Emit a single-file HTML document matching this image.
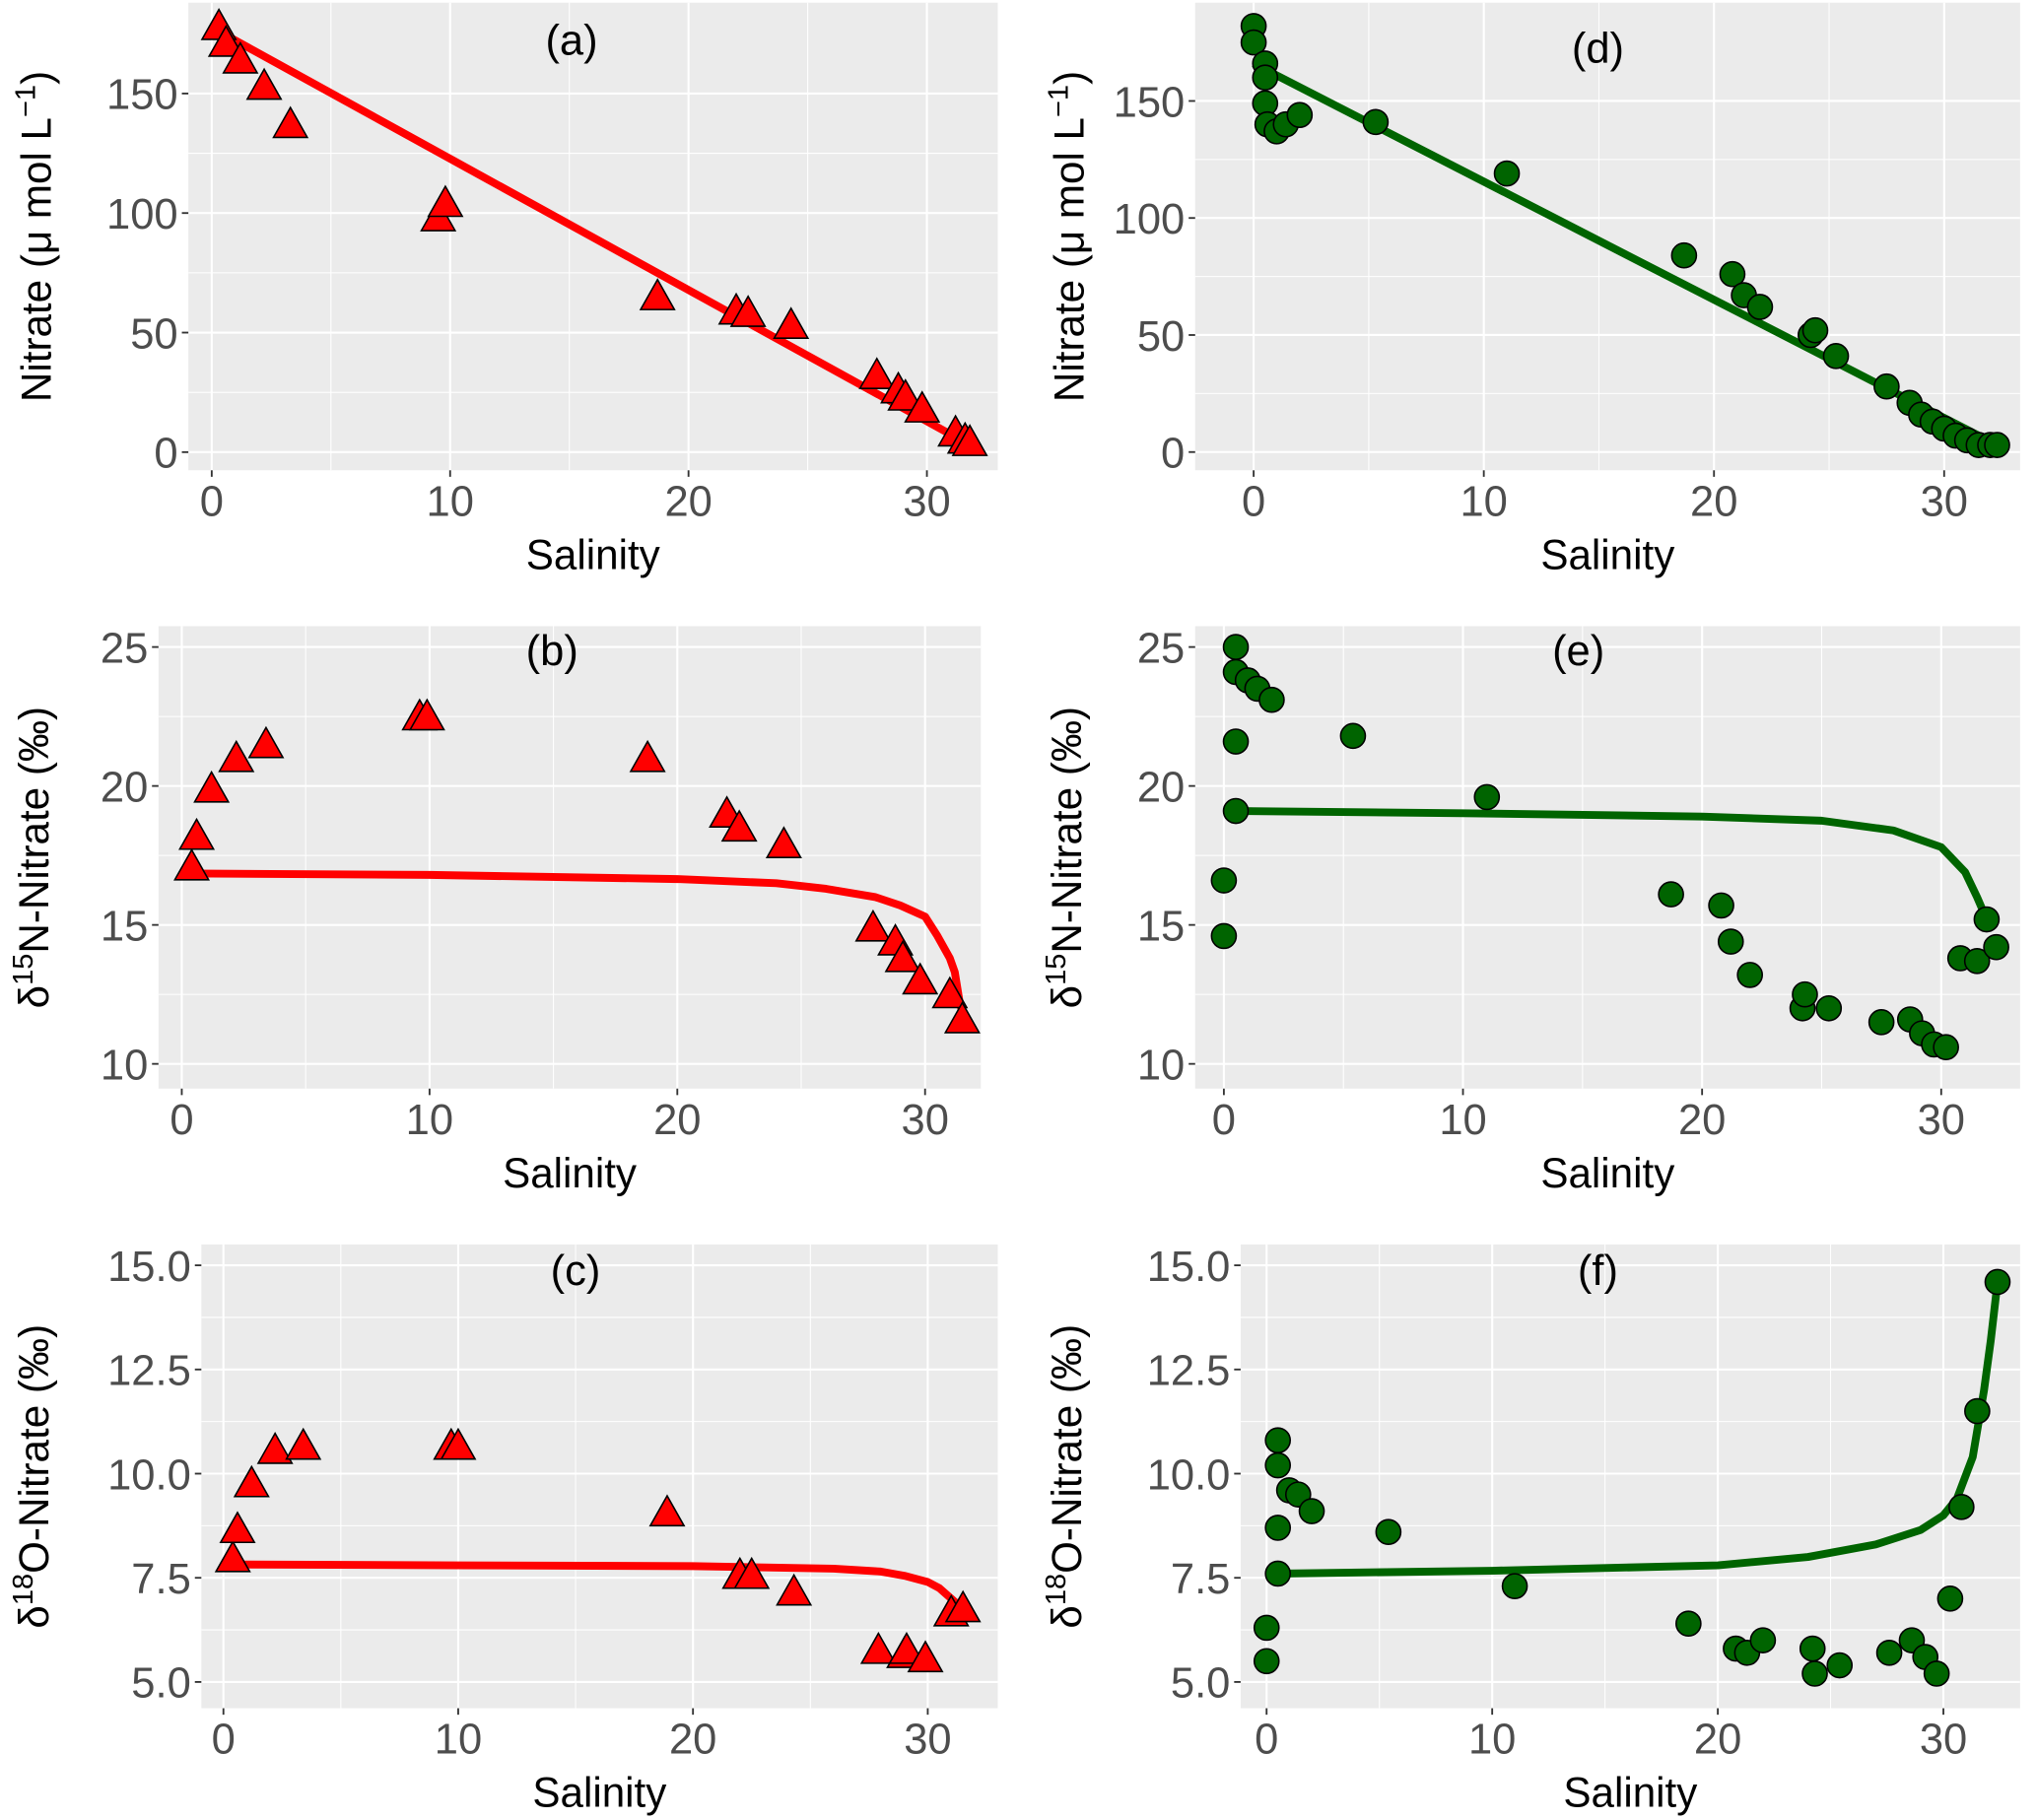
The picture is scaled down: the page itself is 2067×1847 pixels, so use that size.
<!DOCTYPE html>
<html><head><meta charset="utf-8"><style>
html,body{margin:0;padding:0;background:#fff;}
svg{display:block;font-family:"Liberation Sans",Arial,sans-serif;}
</style></head><body>
<svg id="fig" width="2067" height="1847" viewBox="0 0 1568 1401" xmlns="http://www.w3.org/2000/svg"></svg>
<script>
// ---- Data arrays ----
const salA=[0.3,0.6,1.2,2.2,3.3,9.5,9.8,18.7,22,22.5,24.3,27.9,28.8,29.1,29.8,31.2,31.6,31.8];
const nitA=[177,170,163,152,136,97,103,64,58,57,52,31,25,22,17,7,4,3];
const lineAx=[0.3,31.8];
const lineAy=[176,3];

const salB=[0.4,0.6,1.2,2.2,3.4,9.6,9.9,18.8,22,22.5,24.3,27.9,28.8,29.1,29.8,31,31.5];
const d15B=[17.0,18.1,19.8,20.9,21.4,22.4,22.4,20.9,18.9,18.4,17.8,14.8,14.3,13.7,12.9,12.4,11.5];
const lineBx=[0.4,10,20,24,26,28,29,30,30.5,31,31.2,31.4,31.6];
const lineBy=[16.85,16.8,16.65,16.5,16.3,16.0,15.7,15.3,14.6,13.8,13.3,12.2,11.5];

const salC=[0.4,0.6,1.2,2.2,3.4,9.7,10,18.9,22,22.5,24.3,27.9,29,29.1,29.9,31,31.5];
const d18C=[7.9,8.6,9.7,10.5,10.6,10.6,10.6,9.0,7.5,7.5,7.1,5.7,5.6,5.7,5.5,6.6,6.7];
const lineCx=[0.4,10,20,26,28,29,30,30.5,31,31.6];
const lineCy=[7.82,7.8,7.78,7.72,7.65,7.55,7.4,7.25,7.0,6.7];

const salD=[0,0,0.5,0.5,0.5,0.6,1,1.4,2,5.3,11,18.7,20.8,21.3,22,24.2,24.4,25.3,27.5,28.5,29,29.5,30,30.5,31,31.5,32,32.3];
const nitD=[182,175,166,160,149,140,137,140,144,141,119,84,76,67,62,50,52,41,28,21,16,13,10,7,5,3,3,3];
const lineDx=[0,32.3];
const lineDy=[166,3];

const salE=[0,0,0.5,0.5,0.5,0.5,1,1.4,2,5.4,11,18.7,20.8,21.2,22,24.2,24.3,25.3,27.5,28.7,29.2,29.7,30.2,30.8,31.5,31.9,32.3];
const d15E=[16.6,14.6,25,24.1,21.6,19.1,23.8,23.5,23.1,21.8,19.6,16.1,15.7,14.4,13.2,12,12.5,12,11.5,11.6,11.1,10.7,10.6,13.8,13.7,15.2,14.2];
const lineEx=[0.5,10,20,25,28,30,31,31.5,31.8,32.1];
const lineEy=[19.1,19.02,18.9,18.75,18.4,17.8,16.9,16.0,15.4,14.9];

const salF=[0,0,0.5,0.5,0.5,0.5,1,1.4,2,5.4,11,18.7,20.8,21.3,22,24.2,24.3,25.4,27.6,28.6,29.2,29.7,30.3,30.8,31.5,32.4];
const d18F=[6.3,5.5,10.8,10.2,8.7,7.6,9.6,9.5,9.1,8.6,7.3,6.4,5.8,5.7,6.0,5.8,5.2,5.4,5.7,6.0,5.6,5.2,7.0,9.2,11.5,14.6];
const lineFx=[0.5,10,20,24,27,29,30,30.6,31.3,31.8,32.1,32.4];
const lineFy=[7.6,7.67,7.8,8.0,8.3,8.65,9.0,9.4,10.4,12.0,13.2,14.6];

const ticksXLabels=["0","10","20","30"];
const ticksNit=["0","50","100","150"];
const ticksD15=["10","15","20","25"];
const ticksD18=["5.0","7.5","10.0","12.5","15.0"];

// ---- Drawing ----
const NS="http://www.w3.org/2000/svg";
const svg=document.getElementById('fig');
function mk(tag,attrs,parent){const e=document.createElementNS(NS,tag);for(const k in attrs)e.setAttribute(k,attrs[k]);(parent||svg).appendChild(e);return e;}

function panel(o){
  const g=mk('g',{});
  
  
  const sx=v=>o.x0+(v-o.xmin)/(o.xmax-o.xmin)*(o.x1-o.x0);
  const sy=v=>o.y1-(v-o.ymin)/(o.ymax-o.ymin)*(o.y1-o.y0);
  const bg=mk('rect',{x:o.x0,y:o.y0,width:o.x1-o.x0,height:o.y1-o.y0,fill:'#EBEBEB'},g);
  
  
  o.xticks.forEach((t,i)=>{if(i<o.xticks.length-1){const m=(t+o.xticks[i+1])/2;mk('line',{x1:sx(m),x2:sx(m),y1:o.y0,y2:o.y1,stroke:'#fff','stroke-width':0.8},g);}});
  o.yticks.forEach((t,i)=>{if(i<o.yticks.length-1){const m=(t+o.yticks[i+1])/2;mk('line',{x1:o.x0,x2:o.x1,y1:sy(m),y2:sy(m),stroke:'#fff','stroke-width':0.8},g);}});
  o.xticks.forEach((t,i)=>{
    mk('line',{x1:sx(t),x2:sx(t),y1:o.y0,y2:o.y1,stroke:'#fff','stroke-width':1.6},g);
    mk('line',{x1:sx(t),x2:sx(t),y1:o.y1,y2:o.y1+5,stroke:'#333','stroke-width':1.4},g);
    const tx=mk('text',{x:sx(t),y:o.y1+35,'text-anchor':'middle','font-size':33,fill:'#4D4D4D'},g);
    tx.textContent=ticksXLabels[i];
    
    
  });
  o.yticks.forEach((t,i)=>{
    mk('line',{x1:o.x0,x2:o.x1,y1:sy(t),y2:sy(t),stroke:'#fff','stroke-width':1.6},g);
    mk('line',{x1:o.x0-5,x2:o.x0,y1:sy(t),y2:sy(t),stroke:'#333','stroke-width':1.4},g);
    const ty=mk('text',{x:o.x0-8,y:sy(t)+12,'text-anchor':'end','font-size':33,fill:'#4D4D4D'},g);
    ty.textContent=o.ylabels[i];
    
    
  });
  const pts=o.lx.map((v,i)=>sx(v)+','+sy(o.ly[i])).join(' ');
  const pl=mk('polyline',{points:pts,fill:'none',stroke:o.color,'stroke-width':6,'stroke-linejoin':'round'},g);
  
  
  o.px.forEach((v,i)=>{
    const cx=sx(v),cy=sy(o.py[i]);
    let m;
    if(o.shape==='tri'){
      m=mk('polygon',{points:`${cx},${cy-15} ${cx-13},${cy+8} ${cx+13},${cy+8}`,fill:'#FF0000',stroke:'#000','stroke-width':1.2},g);
    } else {
      m=mk('circle',{cx:cx,cy:cy,r:9.5,fill:'#006400',stroke:'#000','stroke-width':1.2},g);
    }
    
    
  });
  const pt=mk('text',{x:o.lab[0],y:o.lab[1],'text-anchor':'middle','font-size':33,fill:'#000'},g);
  pt.textContent='('+o.id+')';
  
  
  const xt=mk('text',{x:(o.x0+o.x1)/2,y:o.y1+76,'text-anchor':'middle','font-size':32,fill:'#000'},g);
  xt.textContent='Salinity';
  
  
  const cy=(o.y0+o.y1)/2;
  const yt=mk('text',{x:0,y:0,'text-anchor':'middle','font-size':32,fill:'#000',transform:`translate(${o.ytx},${cy}) rotate(-90)`},g);
  
  
  yt.innerHTML=o.ytitle;
}

const nitTitle='Nitrate (μ mol L<tspan baseline-shift="super" font-size="22">−1</tspan>)';
const d15Title='δ<tspan baseline-shift="super" font-size="22">15</tspan>N-Nitrate (‰)';
const d18Title='δ<tspan baseline-shift="super" font-size="22">18</tspan>O-Nitrate (‰)';

panel({id:'a',x0:145,x1:768,y0:2,y1:362,xmin:-0.98,xmax:32.97,ymin:-7.6,ymax:188,xticks:[0,10,20,30],yticks:[0,50,100,150],ylabels:ticksNit,
  px:salA,py:nitA,lx:lineAx,ly:lineAy,color:'#FF0000',shape:'tri',lab:[440,42],ytx:39,ytitle:nitTitle});
panel({id:'d',x0:920,x1:1555,y0:2,y1:362,xmin:-2.54,xmax:33.3,ymin:-7.8,ymax:192,xticks:[0,10,20,30],yticks:[0,50,100,150],ylabels:ticksNit,
  px:salD,py:nitD,lx:lineDx,ly:lineDy,color:'#006400',shape:'circ',lab:[1230,48],ytx:834,ytitle:nitTitle});
panel({id:'b',x0:122,x1:755,y0:482,y1:838,xmin:-0.94,xmax:32.25,ymin:9.11,ymax:25.75,xticks:[0,10,20,30],yticks:[10,15,20,25],ylabels:ticksD15,
  px:salB,py:d15B,lx:lineBx,ly:lineBy,color:'#FF0000',shape:'tri',lab:[425,512],ytx:37,ytitle:d15Title});
panel({id:'e',x0:920,x1:1555,y0:482,y1:838,xmin:-1.2,xmax:33.3,ymin:9.11,ymax:25.75,xticks:[0,10,20,30],yticks:[10,15,20,25],ylabels:ticksD15,
  px:salE,py:d15E,lx:lineEx,ly:lineEy,color:'#006400',shape:'circ',lab:[1215,512],ytx:832,ytitle:d15Title});
panel({id:'c',x0:155,x1:768,y0:958,y1:1315,xmin:-0.94,xmax:32.98,ymin:4.37,ymax:15.5,xticks:[0,10,20,30],yticks:[5,7.5,10,12.5,15],ylabels:ticksD18,
  px:salC,py:d18C,lx:lineCx,ly:lineCy,color:'#FF0000',shape:'tri',lab:[443,989],ytx:37,ytitle:d18Title});
panel({id:'f',x0:955,x1:1555,y0:958,y1:1315,xmin:-1.15,xmax:33.4,ymin:4.37,ymax:15.5,xticks:[0,10,20,30],yticks:[5,7.5,10,12.5,15],ylabels:ticksD18,
  px:salF,py:d18F,lx:lineFx,ly:lineFy,color:'#006400',shape:'circ',lab:[1230,989],ytx:832,ytitle:d18Title});
</script>
</body></html>
